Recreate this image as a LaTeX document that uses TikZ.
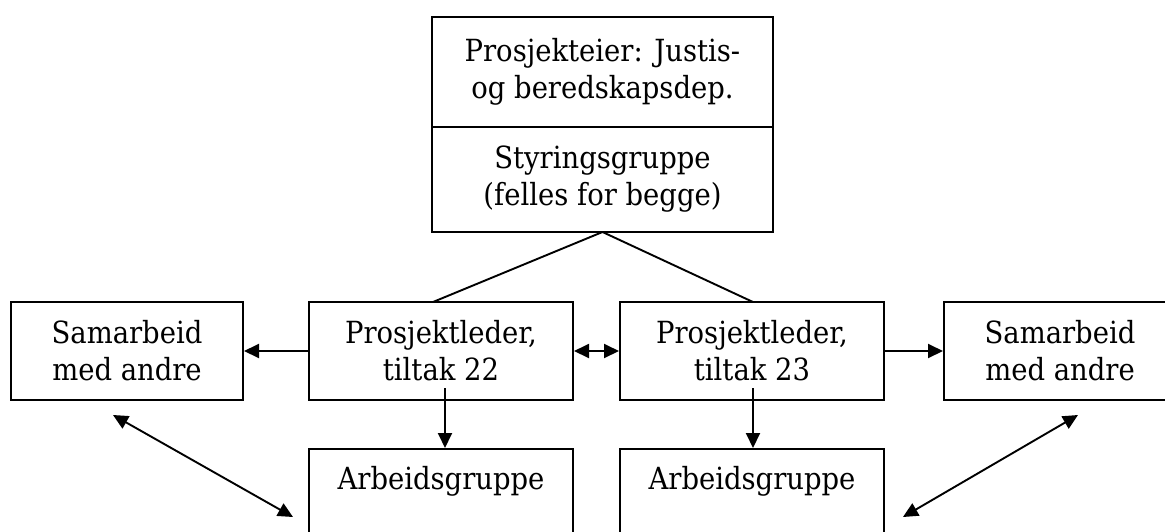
\documentclass[tikz,border=0pt]{standalone}
\usepackage{fontspec}
\setmainfont{DejaVu Serif Condensed}
\usetikzlibrary{arrows.meta}
\begin{document}
\begin{tikzpicture}[x=1pt,y=-1pt,
  box/.style={draw,line width=2pt,inner sep=0pt,align=center,
    font=\fontsize{30.5}{37}\selectfont},
  conn/.style={line width=1.9pt},
  tip/.style={-{Triangle[length=15pt,width=14pt]}},
  both/.style={{Triangle[length=15pt,width=14pt]}-{Triangle[length=15pt,width=14pt]}},
  lbl/.style={font=\fontsize{30.5}{37}\selectfont,inner sep=0pt}]
\useasboundingbox (0,0) rectangle (1165,531);
\clip (0,0) rectangle (1165,531);
% top box
\node[box,minimum width=341pt,minimum height=110pt] (owner) at (602.5,72) {Prosjekteier: Justis-\\og beredskapsdep.};
\node[box,minimum width=341pt,minimum height=105pt] (steer) at (602.5,179.5) {Styringsgruppe\\(felles for begge)};
% middle row
\node[box,minimum width=232pt,minimum height=98pt] (sam1) at (127,351) {Samarbeid\\med andre};
\node[box,minimum width=264pt,minimum height=98pt] (pl22) at (441,351) {Prosjektleder,\\tiltak 22};
\node[box,minimum width=264pt,minimum height=98pt] (pl23) at (752,351) {Prosjektleder,\\tiltak 23};
\node[box,minimum width=232pt,minimum height=98pt] (sam2) at (1060,351) {Samarbeid\\med andre};
% bottom row
\node[box,minimum width=264pt,minimum height=130pt,anchor=north] (ag1) at (441,448) {};
\node[box,minimum width=264pt,minimum height=130pt,anchor=north] (ag2) at (752,448) {};
\node[lbl,anchor=base] (ag1t) at (441,489) {Arbeidsgruppe};
\node[lbl,anchor=base] (ag2t) at (752,489) {Arbeidsgruppe};
% coordinates
\coordinate (apex) at (602.5,232);
\coordinate (l22) at (433,302);
\coordinate (l23) at (753,302);
\coordinate (v22a) at (445,388);
\coordinate (v22b) at (445,448);
\coordinate (v23a) at (753,388);
\coordinate (v23b) at (753,448);
\coordinate (d1a) at (113,415);
\coordinate (d1b) at (293,517);
\coordinate (d2a) at (1078,415);
\coordinate (d2b) at (903,517);
% connectors
\draw[conn] (apex) -- (l22);
\draw[conn] (apex) -- (l23);
\draw[conn,tip] (pl22.west) -- (sam1.east);
\draw[conn,both] (pl22.east) -- (pl23.west);
\draw[conn,tip] (pl23.east) -- (sam2.west);
\draw[conn,tip] (v22a) -- (v22b);
\draw[conn,tip] (v23a) -- (v23b);
\draw[conn,both] (d1a) -- (d1b);
\draw[conn,both] (d2a) -- (d2b);
\end{tikzpicture}
\end{document}
